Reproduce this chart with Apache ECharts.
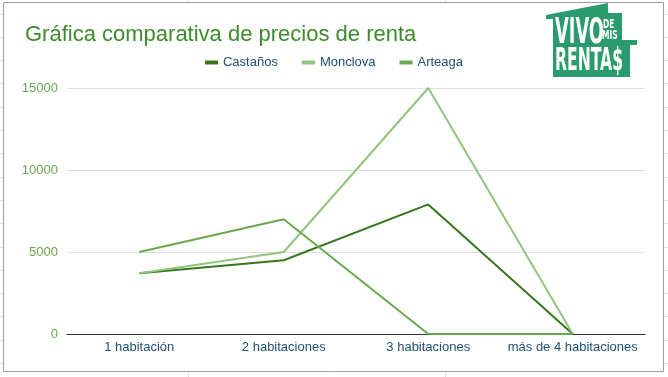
<!DOCTYPE html>
<html><head><meta charset="utf-8">
<script src="https://cdn.jsdelivr.net/npm/echarts@6/dist/echarts.min.js"></script>
<style>html,body{margin:0;padding:0;background:#fff}#c{width:668px;height:377px}</style>
</head><body><div id="c"></div>
<script>
const categories = ['1 habitación', '2 habitaciones', '3 habitaciones', 'más de 4 habitaciones'];
const castanos = [3700, 4500, 7900, 0];
const monclova = [3700, 5000, 15000, 0];
const arteaga = [5000, 7000, 0, 0];
const seriesNames = ['Castaños', 'Monclova', 'Arteaga'];
const yTicks = [0, 5000, 10000, 15000];

const chart = echarts.init(document.getElementById('c'), null, {renderer: 'canvas'});
const FONT = 'Liberation Sans, Arial, sans-serif';
const gridColor = '#e3e3e3';

// spreadsheet background lines
const bg = [];
for (let k = 0; k < 17; k++) {
  const y = Math.round(13.5 + 23.3 * k) + 0.5;
  bg.push({type: 'line', shape: {x1: 0, y1: y, x2: 668, y2: y}, style: {stroke: gridColor, lineWidth: 1}, z: -10});
}
[188.5, 445.5].forEach(x => bg.push({type: 'line', shape: {x1: x, y1: 0, x2: x, y2: 377}, style: {stroke: gridColor, lineWidth: 1}, z: -10}));
bg.push({type: 'rect', shape: {x: 3.5, y: 2.5, width: 660, height: 369}, style: {fill: '#fff', stroke: '#9e9e9e', lineWidth: 1}, z: -5});

const logoColor = '#2a9b6e';
const logo = [
  {type: 'polygon', shape: {points: [[546,15],[608,3],[608,13],[622,13],[622,40],[637,40],[637,45],[630,45],[630,77],[553,77],[553,19],[546,19]]}, style: {fill: logoColor}, z: 10},
  {type: 'text', x: 555, y: 17, scaleX: 0.6, scaleY: 1.05, style: {text: 'VIVO', fill: '#fff', font: 'bold 33px "DejaVu Sans Condensed", sans-serif'}, z: 11},
  {type: 'text', x: 603, y: 19, scaleX: 0.7, style: {text: 'DE', fill: '#fff', font: 'bold 12px "DejaVu Sans Condensed", sans-serif'}, z: 11},
  {type: 'text', x: 602, y: 30, scaleX: 0.7, style: {text: 'MIS', fill: '#fff', font: 'bold 12px "DejaVu Sans Condensed", sans-serif'}, z: 11},
  {type: 'text', x: 555, y: 45, scaleX: 0.56, scaleY: 1.05, style: {text: 'RENTA$', fill: '#fff', font: 'bold 31px "DejaVu Sans Condensed", sans-serif'}, z: 11}
];

const colors = ['#38761d', '#93c47d', '#6aa84f'];
const data = [castanos, monclova, arteaga];

chart.setOption({
  animation: false,
  backgroundColor: 'transparent',
  color: colors,
  title: {
    text: 'Gráfica comparativa de precios de renta',
    left: 20, top: 19,
    textStyle: {color: '#3d8b2d', fontSize: 22, fontWeight: 'normal', fontFamily: FONT}
  },
  legend: {
    top: 51, left: 'center',
    icon: 'rect', itemWidth: 13, itemHeight: 4, itemGap: 24,
    textStyle: {color: '#1f4f74', fontSize: 13, fontFamily: FONT},
    data: seriesNames
  },
  grid: {left: 67, right: 23, top: 88, bottom: 43, containLabel: false},
  xAxis: {
    type: 'category', data: categories, boundaryGap: true,
    axisLine: {lineStyle: {color: '#333', width: 1}},
    axisTick: {show: false},
    axisLabel: {color: '#1f4f74', fontSize: 13, fontFamily: FONT, margin: 7, interval: 0}
  },
  yAxis: {
    type: 'value', min: yTicks[0], max: yTicks[yTicks.length - 1], interval: 5000,
    axisLine: {show: false}, axisTick: {show: false},
    axisLabel: {color: '#6aa84f', fontSize: 13, fontFamily: FONT, margin: 9, formatter: v => String(v)},
    splitLine: {lineStyle: {color: '#e0e0e0', width: 1}}
  },
  series: seriesNames.map((n, i) => ({
    name: n, type: 'line', data: data[i], showSymbol: false, symbol: 'none',
    lineStyle: {width: 2, color: colors[i]}, itemStyle: {color: colors[i]}
  })),
  graphic: bg.concat(logo)
});
</script></body></html>
